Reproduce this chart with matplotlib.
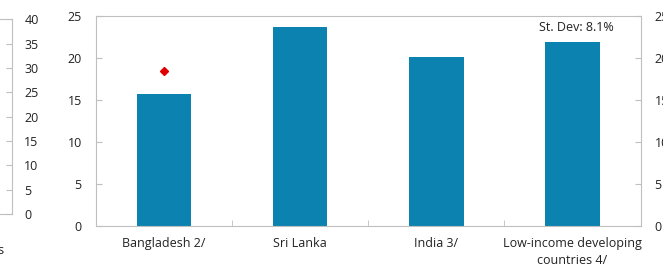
import numpy as np
import matplotlib
matplotlib.use("Agg")
import matplotlib.pyplot as plt

plt.rcParams['font.family'] = ['Open Sans', 'DejaVu Sans']

# data
categories = ["Bangladesh 2/", "Sri Lanka", "India 3/", "Low-income developing\ncountries 4/"]
values = [15.7, 23.7, 20.15, 21.9]
marker_cat = 0
marker_val = 18.4
left_ticks = [0, 5, 10, 15, 20, 25, 30, 35, 40]
main_ticks = [0, 5, 10, 15, 20, 25]
stdev_label = "St. Dev: 8.1%"

bar_col = '#0B82B0'
grey = '#BFBFBF'
txt = '#222222'
fs = 9

fig = plt.figure(figsize=(6.63, 2.68), dpi=100)

# partial panel cut off at the left edge
axl = fig.add_axes([-0.3, 1 - 214/268, 0.3 + 11.7/663, (214 - 19.3)/268])
axl.set_ylim(0, 40)
axl.set_yticks(left_ticks)
axl.set_xticks([])
axl.yaxis.tick_right()
axl.tick_params(axis='y', direction='in', length=4, color=grey, pad=9,
                labelsize=fs, labelcolor=txt)
for s in axl.spines.values():
    s.set_color(grey)
fig.text(4/663, 1 - 250/268, "countries", ha='right', va='center', fontsize=fs, color=txt)

# main panel
ax = fig.add_axes([95.7/663, 1 - 226/268, 545/663, 210/268])
x = np.arange(len(categories))
ax.bar(x, values, width=0.4, color=bar_col, zorder=2)
ax.plot([marker_cat], [marker_val], 'D', color='#E00000', ms=4.5, zorder=3)
ax.text(3.03, 23.6, stdev_label, ha='center', va='center', fontsize=fs, color=txt)

ax.set_xlim(-0.5, len(categories) - 0.5)
ax.set_ylim(0, 25)
ax.set_yticks(main_ticks)
ax.tick_params(axis='y', direction='in', length=4, color=grey, labelsize=fs,
               labelcolor=txt, right=True, labelright=True, pad=10)
ax.set_xticks(x)
ax.set_xticklabels(categories, linespacing=1.35)
ax.tick_params(axis='x', length=0, labelsize=fs, labelcolor=txt, pad=8)
ax.set_xticks([0.5, 1.5, 2.5], minor=True)
ax.tick_params(axis='x', which='minor', direction='in', length=4, color=grey)
for s in ax.spines.values():
    s.set_color(grey)

# blue subtitle, mostly above the cropped top edge
fig.text(70/663, 1 + 2.5/268, "(In percent, 2012–16 average, by group)", ha='left',
         va='baseline', fontsize=fs, color='#3AA0D8')

fig.savefig("out.png", dpi=100)
